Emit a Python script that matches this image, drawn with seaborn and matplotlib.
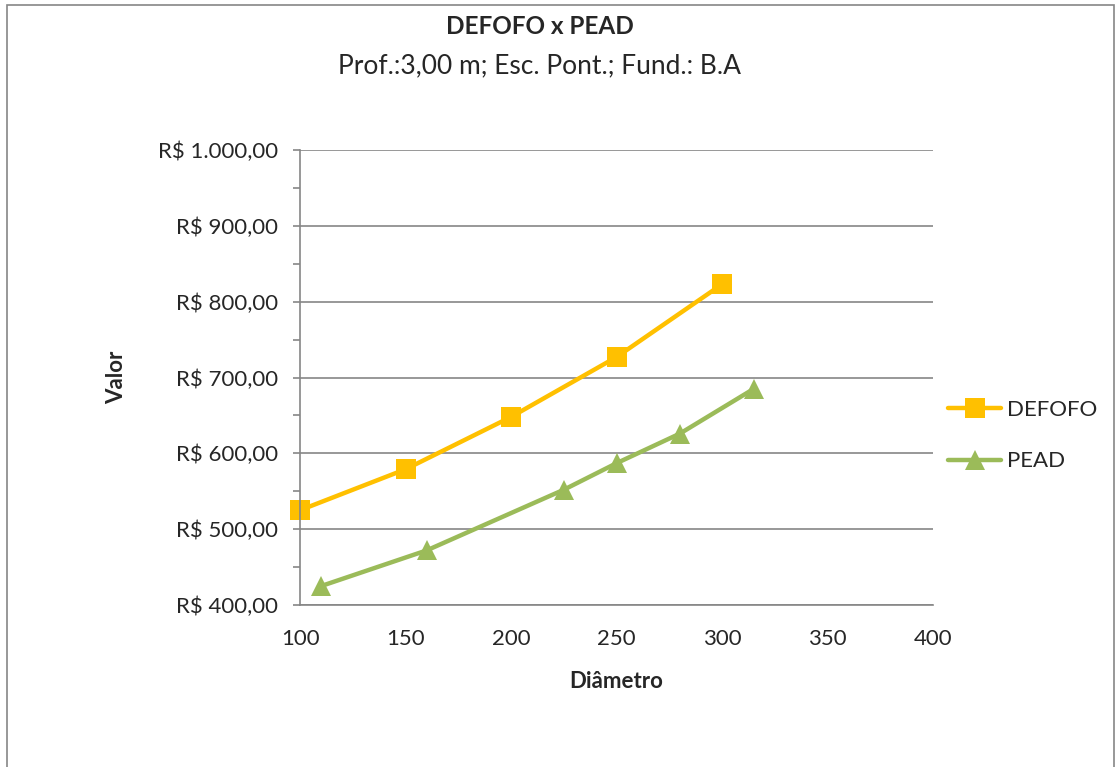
import pandas as pd
import seaborn as sns
import matplotlib.pyplot as plt
from matplotlib.ticker import FuncFormatter, MultipleLocator
from matplotlib.patches import Rectangle

# dados
defofo_diam = [100, 150, 200, 250, 300]
defofo_valor = [525.0, 579.0, 648.0, 727.0, 823.0]
pead_diam = [110, 160, 225, 250, 280, 315]
pead_valor = [425.0, 472.0, 552.0, 587.0, 626.0, 685.0]

series = ['DEFOFO', 'PEAD']
cores = {'DEFOFO': '#FFC000', 'PEAD': '#9BBB59'}
marcadores = {'DEFOFO': 's', 'PEAD': '^'}

df = pd.concat([
    pd.DataFrame({'Diâmetro': defofo_diam, 'Valor': defofo_valor, 'Tubo': 'DEFOFO'}),
    pd.DataFrame({'Diâmetro': pead_diam, 'Valor': pead_valor, 'Tubo': 'PEAD'}),
])

sns.set_style('white')
plt.rcParams['font.family'] = ['Lato', 'DejaVu Sans']
fs = 16

fig = plt.figure(figsize=(11.17, 7.67), dpi=100)
ax = fig.add_axes([0.2686, 0.2112, 0.5667, 0.5932])

sns.lineplot(data=df, x='Diâmetro', y='Valor', hue='Tubo', style='Tubo',
             hue_order=series, style_order=series, palette=cores,
             markers=marcadores, dashes=False, linewidth=3.2,
             markersize=14, markeredgewidth=0, ax=ax, sort=False)
for ln in ax.lines:
    ln.set_clip_on(False)

ax.set_xlim(100, 400)
ax.set_ylim(400, 1000)
ax.xaxis.set_major_locator(MultipleLocator(50))
ax.yaxis.set_major_locator(MultipleLocator(100))
ax.yaxis.set_minor_locator(MultipleLocator(50))

def reais(v, pos):
    s = '{:,.2f}'.format(v).replace(',', 'X').replace('.', ',').replace('X', '.')
    return 'R$ ' + s

ax.yaxis.set_major_formatter(FuncFormatter(reais))
ax.grid(axis='y', which='major', color='#868686', linewidth=1.2)
ax.set_axisbelow(True)
for s in ['top', 'right']:
    ax.spines[s].set_visible(False)
for s in ['left', 'bottom']:
    ax.spines[s].set_color('#868686')
    ax.spines[s].set_linewidth(1.2)

ax.tick_params(axis='x', length=0, pad=17, labelsize=fs)
ax.tick_params(axis='y', which='both', left=True, length=5, color='#868686',
               width=1.2, labelsize=fs, pad=11)

ax.set_xlabel('Diâmetro', fontsize=fs, fontweight='bold', labelpad=16)
ax.set_ylabel('Valor', fontsize=fs, fontweight='bold', labelpad=22)

fig.text(0.4834, 0.965, 'DEFOFO x PEAD', ha='center', va='center',
         fontsize=17.5, fontweight='bold')
fig.text(0.4834, 0.914, 'Prof.:3,00 m; Esc. Pont.; Fund.: B.A', ha='center',
         va='center', fontsize=19)

handles, labels = ax.get_legend_handles_labels()
ax.legend(handles, labels, loc='center left', bbox_to_anchor=(0.992, 0.372),
          frameon=False, fontsize=fs, handlelength=2.4, labelspacing=1.4,
          handletextpad=0.25)

fig.patches.append(Rectangle((0.0063, -0.05), 0.9910, 1.0435,
                             transform=fig.transFigure, fill=False,
                             edgecolor='#868686', linewidth=1.2))

fig.savefig('out.png', dpi=100)
